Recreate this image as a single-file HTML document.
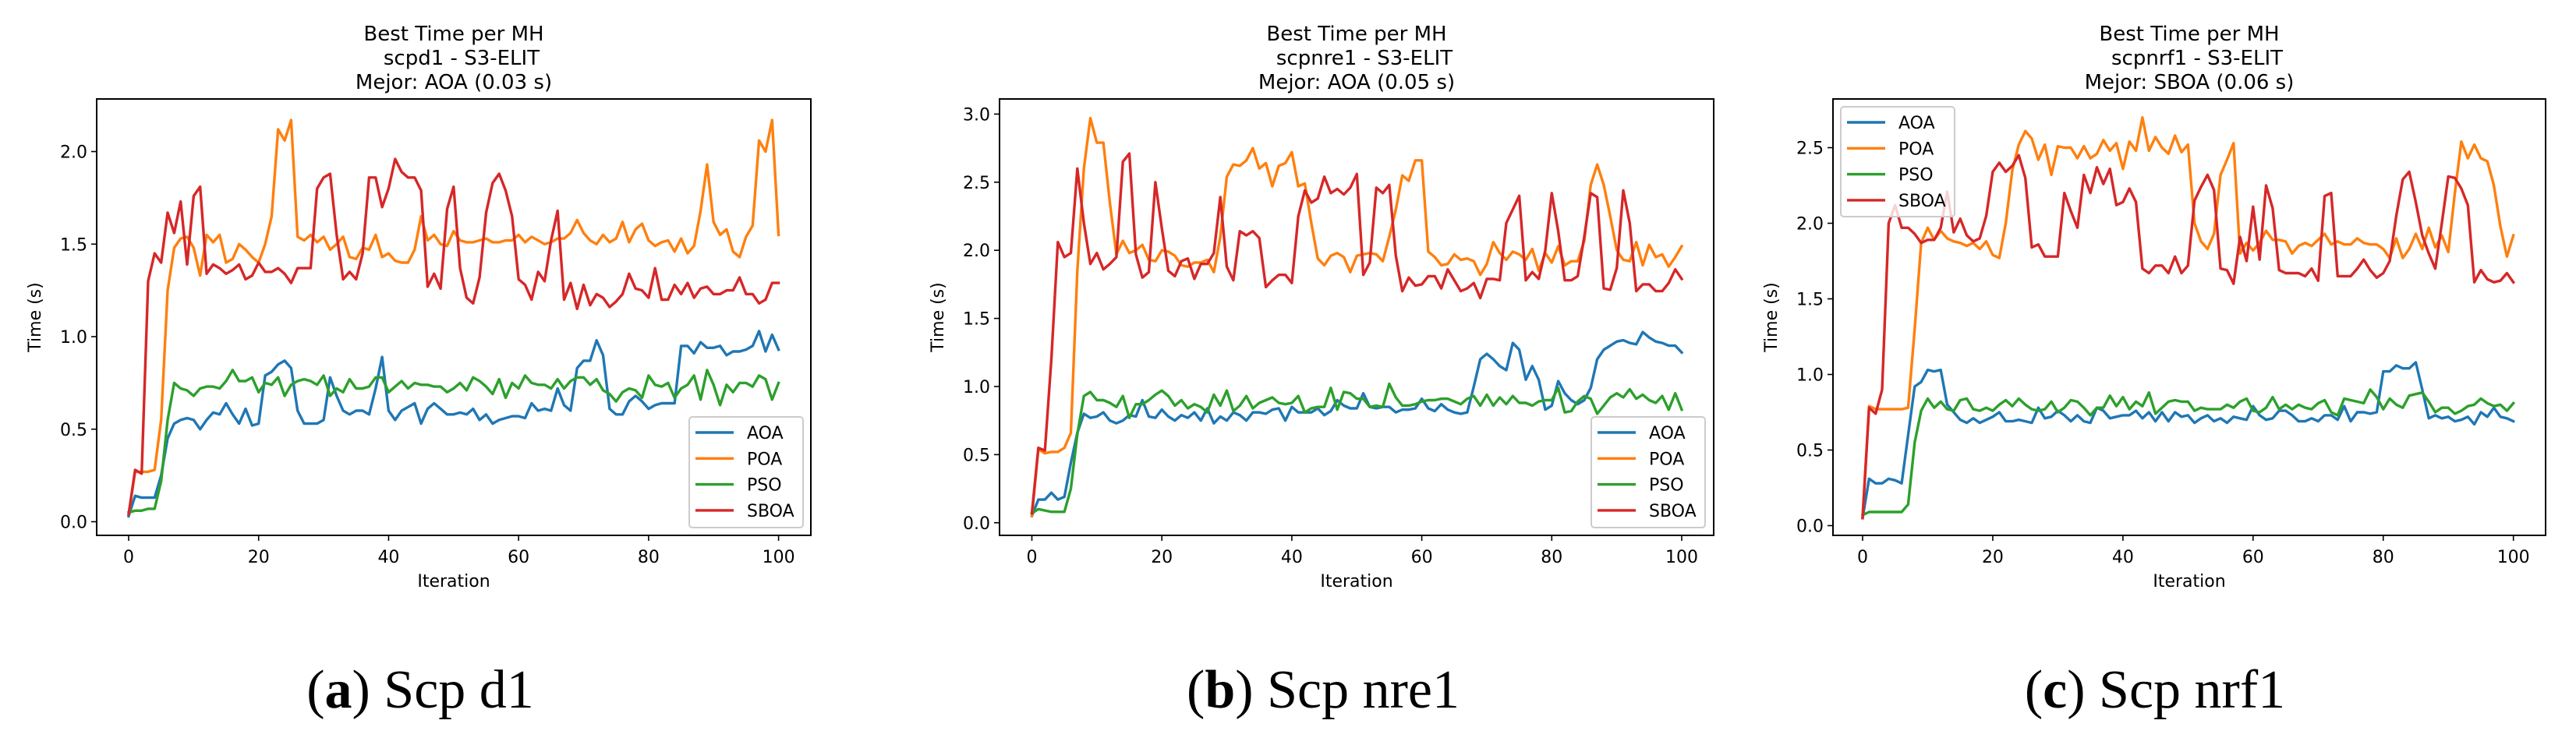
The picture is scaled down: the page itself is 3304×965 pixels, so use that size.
<!DOCTYPE html>
<html><head><meta charset="utf-8"><style>
html,body{margin:0;padding:0;background:#fff;}
svg{display:block;}
</style></head><body>
<svg id="fig" width="3304" height="965" viewBox="0 0 3304 965" xmlns="http://www.w3.org/2000/svg"></svg>
<script>
const iterations = Array.from({length:101},(_, i)=>i);
const seriesNames = ["AOA","POA","PSO","SBOA"];
const xTicks = [0,20,40,60,80,100];
const yTicksA = [0,0.5,1.0,1.5,2.0];
const yTicksB = [0,0.5,1.0,1.5,2.0,2.5,3.0];
const yTicksC = [0,0.5,1.0,1.5,2.0,2.5];

const aAOA = [0.03,0.14,0.13,0.13,0.13,0.25,0.45,0.53,0.55,0.56,0.55,0.50,0.55,0.59,0.58,0.64,0.58,0.53,0.61,0.52,0.53,0.79,0.81,0.85,0.87,0.83,0.60,0.53,0.53,0.53,0.55,0.78,0.68,0.60,0.58,0.60,0.60,0.58,0.72,0.89,0.60,0.55,0.60,0.62,0.64,0.53,0.61,0.64,0.61,0.58,0.58,0.59,0.58,0.61,0.55,0.58,0.53,0.55,0.56,0.57,0.57,0.56,0.64,0.60,0.61,0.60,0.72,0.63,0.60,0.83,0.87,0.87,0.98,0.90,0.61,0.58,0.58,0.65,0.68,0.65,0.61,0.63,0.64,0.64,0.64,0.95,0.95,0.91,0.97,0.94,0.94,0.95,0.90,0.92,0.92,0.93,0.95,1.03,0.92,1.01,0.93];
const aPOA = [0.04,0.27,0.27,0.27,0.28,0.55,1.25,1.48,1.53,1.54,1.48,1.33,1.55,1.51,1.55,1.40,1.42,1.50,1.47,1.43,1.40,1.50,1.65,2.12,2.06,2.17,1.54,1.52,1.55,1.51,1.54,1.47,1.50,1.54,1.43,1.42,1.48,1.47,1.55,1.43,1.45,1.41,1.40,1.40,1.47,1.65,1.52,1.55,1.50,1.49,1.57,1.52,1.51,1.51,1.52,1.53,1.51,1.51,1.52,1.52,1.55,1.51,1.54,1.52,1.50,1.51,1.53,1.53,1.56,1.63,1.56,1.52,1.50,1.55,1.51,1.53,1.62,1.51,1.58,1.61,1.52,1.49,1.51,1.52,1.46,1.53,1.45,1.49,1.68,1.93,1.62,1.55,1.58,1.46,1.43,1.54,1.60,2.06,2.00,2.17,1.55];
const aPSO = [0.05,0.06,0.06,0.07,0.07,0.22,0.55,0.75,0.72,0.71,0.68,0.72,0.73,0.73,0.72,0.76,0.82,0.76,0.76,0.78,0.70,0.75,0.74,0.78,0.68,0.74,0.76,0.77,0.76,0.74,0.79,0.68,0.72,0.70,0.77,0.72,0.72,0.73,0.78,0.78,0.70,0.73,0.76,0.72,0.75,0.74,0.74,0.73,0.73,0.70,0.72,0.75,0.71,0.78,0.76,0.73,0.69,0.77,0.67,0.75,0.72,0.79,0.75,0.74,0.74,0.72,0.77,0.72,0.76,0.78,0.78,0.74,0.77,0.71,0.69,0.65,0.70,0.72,0.71,0.67,0.79,0.74,0.73,0.75,0.67,0.72,0.74,0.79,0.66,0.82,0.74,0.63,0.74,0.70,0.75,0.75,0.73,0.79,0.77,0.66,0.75];
const aSBOA = [0.04,0.28,0.26,1.30,1.45,1.40,1.67,1.56,1.73,1.39,1.76,1.81,1.34,1.39,1.37,1.34,1.36,1.39,1.31,1.33,1.40,1.35,1.35,1.37,1.34,1.29,1.37,1.37,1.37,1.80,1.86,1.88,1.55,1.31,1.35,1.31,1.45,1.86,1.86,1.70,1.80,1.96,1.89,1.86,1.86,1.79,1.27,1.34,1.26,1.69,1.81,1.37,1.21,1.18,1.32,1.67,1.83,1.88,1.79,1.65,1.31,1.28,1.20,1.35,1.30,1.52,1.68,1.20,1.29,1.15,1.28,1.17,1.23,1.21,1.16,1.19,1.23,1.34,1.26,1.25,1.21,1.37,1.20,1.20,1.28,1.23,1.29,1.21,1.26,1.27,1.23,1.23,1.25,1.25,1.32,1.23,1.23,1.18,1.20,1.29,1.29];

const bAOA = [0.05,0.17,0.17,0.22,0.17,0.19,0.44,0.66,0.80,0.77,0.78,0.81,0.75,0.73,0.75,0.79,0.78,0.90,0.78,0.77,0.83,0.78,0.75,0.79,0.77,0.81,0.75,0.84,0.73,0.78,0.75,0.81,0.79,0.75,0.81,0.81,0.80,0.83,0.84,0.75,0.85,0.81,0.81,0.81,0.84,0.79,0.82,0.90,0.86,0.84,0.84,0.95,0.85,0.84,0.85,0.85,0.81,0.83,0.83,0.84,0.91,0.84,0.82,0.87,0.83,0.81,0.80,0.81,1.00,1.20,1.24,1.20,1.15,1.12,1.32,1.27,1.05,1.15,1.05,0.83,0.86,1.04,0.95,0.90,0.87,0.90,0.99,1.20,1.27,1.30,1.33,1.34,1.32,1.31,1.40,1.36,1.33,1.32,1.30,1.30,1.25];
const bPOA = [0.05,0.54,0.51,0.52,0.52,0.55,0.66,1.85,2.60,2.97,2.79,2.79,2.35,1.97,2.07,1.98,2.00,2.04,1.93,1.92,2.00,1.99,1.96,1.89,1.88,1.91,1.91,1.93,1.84,2.10,2.54,2.63,2.62,2.66,2.75,2.60,2.64,2.47,2.62,2.64,2.72,2.47,2.49,2.20,1.94,1.89,1.96,1.98,1.95,1.84,1.96,1.97,1.98,1.97,1.92,2.10,2.30,2.55,2.51,2.66,2.66,1.99,1.95,1.89,1.90,1.97,1.93,1.94,1.92,1.82,1.90,2.06,1.98,1.93,1.99,1.97,1.93,2.01,1.85,1.98,1.91,2.03,1.89,1.92,1.92,2.07,2.48,2.63,2.48,2.25,2.00,1.93,1.92,2.06,1.89,2.04,1.95,1.97,1.88,1.95,2.03];
const bPSO = [0.07,0.10,0.09,0.08,0.08,0.08,0.25,0.65,0.93,0.96,0.90,0.90,0.88,0.85,0.93,0.77,0.87,0.87,0.90,0.94,0.97,0.93,0.86,0.90,0.84,0.87,0.85,0.81,0.94,0.86,0.97,0.82,0.86,0.93,0.84,0.88,0.90,0.92,0.88,0.87,0.88,0.93,0.81,0.84,0.85,0.85,0.99,0.83,0.96,0.95,0.91,0.91,0.85,0.86,0.85,1.02,0.92,0.86,0.86,0.87,0.89,0.90,0.90,0.91,0.91,0.89,0.87,0.91,0.93,0.86,0.94,0.86,0.92,0.87,0.93,0.88,0.88,0.86,0.89,0.90,0.90,0.99,0.81,0.82,0.89,0.93,0.91,0.80,0.86,0.92,0.95,0.92,0.98,0.91,0.94,0.90,0.88,0.93,0.83,0.95,0.83];
const bSBOA = [0.07,0.55,0.53,1.20,2.06,1.95,1.98,2.60,2.20,1.90,1.98,1.86,1.90,1.95,2.65,2.71,1.97,1.80,1.84,2.50,2.16,1.85,1.81,1.92,1.94,1.79,1.90,1.90,1.98,2.39,1.88,1.78,2.14,2.11,2.14,2.09,1.73,1.78,1.82,1.82,1.76,2.25,2.44,2.35,2.38,2.54,2.42,2.45,2.41,2.46,2.56,1.82,1.91,2.46,2.42,2.48,1.96,1.70,1.80,1.74,1.75,1.81,1.81,1.72,1.86,1.78,1.70,1.72,1.76,1.65,1.79,1.79,1.78,2.20,2.30,2.40,1.78,1.84,1.79,2.00,2.42,2.14,1.78,1.78,1.81,2.10,2.42,2.39,1.72,1.71,1.87,2.44,2.20,1.70,1.75,1.75,1.70,1.70,1.76,1.86,1.79];

const cAOA = [0.05,0.31,0.28,0.28,0.31,0.30,0.28,0.60,0.92,0.95,1.03,1.02,1.03,0.80,0.75,0.70,0.68,0.71,0.68,0.70,0.72,0.75,0.69,0.69,0.70,0.69,0.68,0.78,0.71,0.72,0.76,0.73,0.69,0.73,0.69,0.68,0.78,0.76,0.71,0.72,0.73,0.73,0.76,0.71,0.75,0.69,0.75,0.69,0.75,0.72,0.73,0.68,0.71,0.73,0.69,0.71,0.68,0.72,0.71,0.70,0.79,0.73,0.70,0.71,0.76,0.76,0.73,0.69,0.69,0.71,0.69,0.73,0.73,0.70,0.79,0.69,0.75,0.75,0.74,0.75,1.02,1.02,1.06,1.04,1.04,1.08,0.90,0.71,0.73,0.71,0.72,0.69,0.70,0.72,0.67,0.75,0.72,0.78,0.72,0.71,0.69];
const cPOA = [0.06,0.79,0.77,0.77,0.77,0.77,0.77,0.78,1.30,1.87,1.97,1.89,1.95,1.90,1.88,1.87,1.85,1.87,1.83,1.88,1.79,1.77,2.00,2.35,2.52,2.61,2.56,2.42,2.52,2.32,2.51,2.50,2.50,2.43,2.51,2.43,2.46,2.55,2.48,2.53,2.36,2.54,2.48,2.70,2.48,2.57,2.50,2.46,2.58,2.47,2.52,2.00,1.88,1.83,1.93,2.32,2.42,2.53,1.80,1.87,1.82,1.87,1.95,1.89,1.89,1.88,1.80,1.85,1.87,1.85,1.89,1.93,1.86,1.88,1.86,1.86,1.90,1.87,1.86,1.86,1.83,1.77,1.90,1.77,1.83,1.93,1.83,1.97,1.84,1.92,1.81,2.20,2.54,2.43,2.52,2.43,2.41,2.25,1.98,1.78,1.92];
const cPSO = [0.07,0.09,0.09,0.09,0.09,0.09,0.09,0.14,0.55,0.76,0.84,0.78,0.82,0.77,0.76,0.83,0.84,0.77,0.76,0.78,0.76,0.80,0.83,0.79,0.84,0.80,0.77,0.76,0.77,0.82,0.75,0.78,0.83,0.82,0.78,0.73,0.78,0.78,0.86,0.79,0.85,0.77,0.82,0.79,0.88,0.74,0.78,0.82,0.83,0.82,0.82,0.76,0.78,0.77,0.77,0.77,0.80,0.78,0.82,0.84,0.76,0.75,0.78,0.85,0.77,0.80,0.77,0.80,0.78,0.77,0.81,0.83,0.75,0.73,0.84,0.83,0.82,0.81,0.90,0.85,0.77,0.84,0.80,0.78,0.86,0.87,0.88,0.82,0.75,0.78,0.78,0.74,0.76,0.79,0.80,0.84,0.81,0.79,0.80,0.76,0.81];
const cSBOA = [0.05,0.78,0.74,0.90,2.00,2.12,1.97,1.97,1.93,1.87,1.89,1.89,1.97,2.21,1.94,2.03,1.92,1.88,1.90,2.05,2.34,2.40,2.34,2.38,2.45,2.30,1.84,1.86,1.78,1.78,1.78,2.20,2.08,1.97,2.32,2.20,2.37,2.26,2.36,2.12,2.14,2.23,2.14,1.70,1.67,1.72,1.72,1.67,1.78,1.67,1.72,2.15,2.24,2.32,2.22,1.70,1.69,1.60,1.91,1.75,2.11,1.76,2.25,2.10,1.69,1.67,1.67,1.67,1.65,1.70,1.62,2.18,2.20,1.65,1.65,1.65,1.70,1.76,1.69,1.64,1.67,1.75,2.05,2.29,2.34,2.14,1.92,1.80,1.70,2.00,2.31,2.30,2.23,2.12,1.61,1.69,1.63,1.61,1.62,1.67,1.61];

const colors = ["#1f77b4","#ff7f0e","#2ca02c","#d62728"];
const NS = "http://www.w3.org/2000/svg";
const svg = document.getElementById('fig');
function mk(tag, attrs, parent){
  const e = document.createElementNS(NS, tag);
  for (const k in attrs) e.setAttribute(k, attrs[k]);
  (parent||svg).appendChild(e);
  return e;
}
const F = '"DejaVu Sans","Liberation Sans",sans-serif';

const panels = [
 {id:'a', key:'scpd1', best:'Mejor: AOA (0.03 s)', sub:'scpd1 - S3-ELIT', cap:'a', capRest:' Scp d1', capX:539,
  fx0:124, fx1:1040, x0:165, x100:998.6, y0:669.5, yPer:237.5, ticks:yTicksA, data:[aAOA,aPOA,aPSO,aSBOA],
  leg:{x:884, y:535, w:146, h:142}},
 {id:'b', key:'scpnre1', best:'Mejor: AOA (0.05 s)', sub:'scpnre1 - S3-ELIT', cap:'b', capRest:' Scp nre1', capX:1697,
  fx0:1282, fx1:2198, x0:1323.5, x100:2157, y0:670.8, yPer:174.8, ticks:yTicksB, data:[bAOA,bPOA,bPSO,bSBOA],
  leg:{x:2041, y:535, w:146, h:142}},
 {id:'c', key:'scpnrf1', best:'Mejor: SBOA (0.06 s)', sub:'scpnrf1 - S3-ELIT', cap:'c', capRest:' Scp nrf1', capX:2764,
  fx0:2351, fx1:3265, x0:2389, x100:3223.7, y0:674.5, yPer:194, ticks:yTicksC, data:[cAOA,cPOA,cPSO,cSBOA],
  leg:{x:2361, y:137, w:146, h:141}}
];
const FT = 127, FB = 687;

panels.forEach(p=>{
  const g = mk('g',{});
  
  
  const xs = v => p.x0 + (p.x100 - p.x0) * v / 100;
  const ys = v => p.y0 - p.yPer * v;
  const cx = (p.fx0 + p.fx1) / 2;
  const t = mk('text',{x:cx, y:52, 'text-anchor':'middle', 'font-family':F, 'font-size':26, fill:'#000'}, g);
  
  
  const l1 = mk('tspan',{x:cx, y:52}, t); l1.textContent = 'Best Time per MH';
  const l2 = mk('tspan',{x:cx+10, y:83}, t); l2.textContent = p.sub;
  const l3 = mk('tspan',{x:cx, y:114}, t); l3.textContent = p.best;
  const sg = mk('g',{}, g);
  
  
  p.data.forEach((arr, si)=>{
    const pts = arr.map((v,i)=> xs(iterations[i]).toFixed(1) + ',' + ys(v).toFixed(1)).join(' ');
    const pl = mk('polyline',{points:pts, fill:'none', stroke:colors[si], 'stroke-width':3.4, 'stroke-linejoin':'round', 'stroke-linecap':'square'}, sg);
    
    
  });
  const fr = mk('rect',{x:p.fx0, y:FT, width:p.fx1-p.fx0, height:FB-FT, fill:'none', stroke:'#000', 'stroke-width':2}, g);
  
  
  xTicks.forEach(v=>{
    const X = xs(v);
    const tk = mk('line',{x1:X, y1:FB, x2:X, y2:FB+7, stroke:'#000', 'stroke-width':1.6}, g);
    
    
    const tl = mk('text',{x:X, y:722, 'text-anchor':'middle', 'font-family':F, 'font-size':22, fill:'#000'}, g);
    
    
    tl.textContent = String(v);
  });
  p.ticks.forEach(v=>{
    const Y = ys(v);
    const tk = mk('line',{x1:p.fx0-7, y1:Y, x2:p.fx0, y2:Y, stroke:'#000', 'stroke-width':1.6}, g);
    
    
    const tl = mk('text',{x:p.fx0-12, y:Y+8, 'text-anchor':'end', 'font-family':F, 'font-size':22, fill:'#000'}, g);
    
    
    tl.textContent = v.toFixed(1);
  });
  const xl = mk('text',{x:cx, y:753, 'text-anchor':'middle', 'font-family':F, 'font-size':22, fill:'#000'}, g);
  
  
  xl.textContent = 'Iteration';
  const yx = p.fx0 - 72, yy = (FT+FB)/2;
  const yl = mk('text',{x:yx, y:yy, 'text-anchor':'middle', 'font-family':F, 'font-size':22, fill:'#000', transform:'rotate(-90 '+yx+' '+yy+')'}, g);
  
  
  yl.textContent = 'Time (s)';
  const L = p.leg;
  const lg = mk('g',{}, g);
  
  
  mk('rect',{x:L.x, y:L.y, width:L.w, height:L.h, rx:4, fill:'#fff', 'fill-opacity':0.8, stroke:'#cccccc', 'stroke-width':2}, lg);
  seriesNames.forEach((n, si)=>{
    const Y = L.y + 20 + si*33.3;
    const e = mk('g',{}, lg);
    
    
    mk('line',{x1:L.x+8, y1:Y, x2:L.x+57, y2:Y, stroke:colors[si], 'stroke-width':3.4}, e);
    const tx = mk('text',{x:L.x+74, y:Y+8, 'font-family':F, 'font-size':22, fill:'#000'}, e);
    tx.textContent = n;
  });
  const cap = mk('text',{x:p.capX, y:908, 'text-anchor':'middle', 'font-family':'"Liberation Serif",serif', 'font-size':70, fill:'#000'}, g);
  
  
  const c1 = mk('tspan',{}, cap); c1.textContent = '(';
  const c2 = mk('tspan',{'font-weight':'bold'}, cap); c2.textContent = p.cap;
  const c3 = mk('tspan',{}, cap); c3.textContent = ')' + p.capRest;
});
</script>
</body></html>
